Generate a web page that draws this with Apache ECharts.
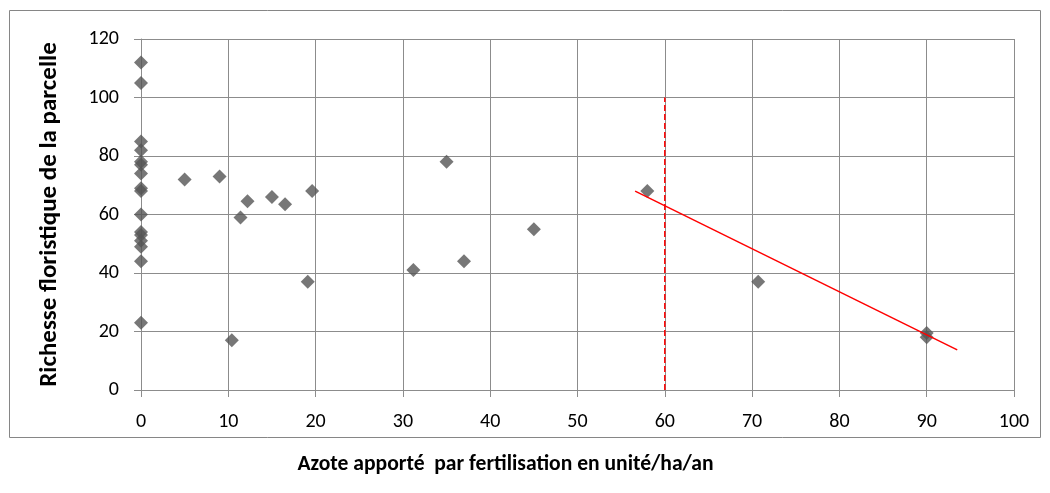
<!DOCTYPE html>
<html>
<head>
<meta charset="utf-8">
<script src="https://cdn.jsdelivr.net/npm/echarts@6/dist/echarts.min.js"></script>
<style>html,body{margin:0;padding:0;background:#fff}#c{width:1050px;height:493px}</style>
</head>
<body>
<div id="c"></div>
<script>
// Data
var xValues = [0,0,0,0,0,0,0,0,0,0,0,0,0,0,0,0,5,9,10.4,11.4,12.2,15,16.5,19.1,19.6,31.2,35,37,45,58,70.7,90,90];
var yValues = [112,105,85,82,78,77,74,69,68,60,54,53,51,49,44,23,72,73,17,59,64.5,66,63.5,37,68,41,78,44,55,68,37,19.5,18];
var trendX = [56.6, 93.5];
var trendY = [68, 13.7];
var thresholdX = [60, 60];
var thresholdY = [0, 100];
var xTicks = [0,10,20,30,40,50,60,70,80,90,100];
var yTicks = [0,20,40,60,80,100,120];
var xTitle = 'Azote apporté  par fertilisation en unité/ha/an';
var yTitle = 'Richesse floristique de la parcelle';

var points = xValues.map(function(x,i){return [x, yValues[i]];});
var trend = trendX.map(function(x,i){return [x, trendY[i]];});
var threshold = thresholdX.map(function(x,i){return [x, thresholdY[i]];});

var font = 'Carlito, Lato, "Liberation Sans", sans-serif';
var gridColor = '#8c8c8c';
var chart = echarts.init(document.getElementById('c'), null, {renderer:'canvas'});
chart.setOption({
  animation:false,
  backgroundColor:'#fff',
  textStyle:{fontFamily:font},
  graphic:[{type:'rect', shape:{x:9.5,y:10.5,width:1031,height:427}, style:{fill:'none',stroke:'#868686',lineWidth:1}, silent:true, z:-1}],
  grid:{left:141, right:36, top:39, bottom:103},
  xAxis:{
    type:'value', min:xTicks[0], max:xTicks[xTicks.length-1], interval:10,
    name:xTitle, nameLocation:'middle', nameGap:64,
    nameTextStyle:{fontFamily:font, fontSize:21.6, fontWeight:'bold', color:'#000', padding:[0,144,0,0]},
    axisLine:{show:true, lineStyle:{color:gridColor, width:1}},
    axisTick:{show:true, inside:false, length:7, lineStyle:{color:gridColor}},
    axisLabel:{fontFamily:font, fontSize:20, color:'#000', margin:22},
    splitLine:{show:true, lineStyle:{color:gridColor, width:1}}
  },
  yAxis:{
    type:'value', min:yTicks[0], max:yTicks[yTicks.length-1], interval:20,
    name:yTitle, nameLocation:'middle', nameGap:79,
    nameTextStyle:{fontFamily:font, fontSize:25, fontWeight:'bold', color:'#000'},
    axisLine:{show:true, lineStyle:{color:gridColor, width:1}},
    axisTick:{show:true, inside:false, length:7, lineStyle:{color:gridColor}},
    axisLabel:{fontFamily:font, fontSize:20, color:'#000', margin:22},
    splitLine:{show:true, lineStyle:{color:gridColor, width:1}}
  },
  series:[
    {type:'scatter', data:points, symbol:'diamond', symbolSize:14, itemStyle:{color:'#555555'}, z:3},
    {type:'line', data:trend, symbol:'none', lineStyle:{color:'#ff0000', width:1.5}, z:4},
    {type:'line', data:threshold, symbol:'none', lineStyle:{color:'#ff0000', width:1.5, type:[6,3]}, z:2}
  ]
});
</script>
</body>
</html>
